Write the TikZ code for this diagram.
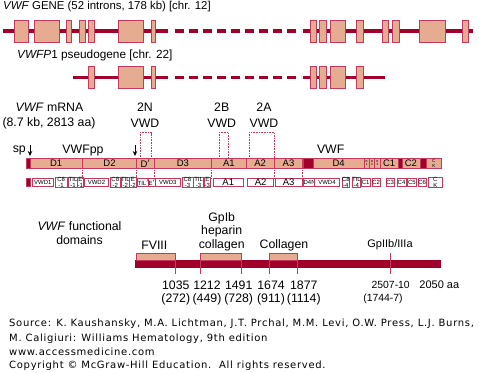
\documentclass[tikz,border=0pt]{standalone}
\usepackage{fontspec}
\setmainfont{Liberation Sans}
\newfontfamily\srcfont[LetterSpace=7]{DejaVu Sans}
\usetikzlibrary{
  arrows.meta,
  positioning
}
\definecolor{geneRed}{RGB}{160,0,42}
\definecolor{exonTan}{RGB}{229,172,146}
\definecolor{edgeRed}{RGB}{196,58,92}
\tikzset{
  exon/.style={
    draw=edgeRed,
    fill=exonTan,
    line width=0.7pt,
    inner sep=0pt,
    outer sep=0pt
  },
  topbox/.style={
    exon,
    anchor=west,
    minimum height=10pt,
    font=\fontsize{9.5}{10}\selectfont
  },
  lowbox/.style={
    draw=edgeRed,
    fill=white,
    line width=0.6pt,
    inner sep=0pt,
    anchor=west,
    minimum height=8.4pt,
    align=center,
    font=\fontsize{6}{6}\selectfont
  },
  darkbox/.style={
    draw=edgeRed,
    fill=geneRed,
    line width=0.6pt,
    inner sep=0pt,
    anchor=west
  },
  vdot/.style={
    draw=edgeRed,
    densely dotted,
    line width=0.6pt
  },
  lbl/.style={
    inner sep=0pt,
    font=\fontsize{12.3}{14}\selectfont
  }
}

\begin{document}
\begin{tikzpicture}[
    x=1pt, y=-1pt,
    >={Stealth[length=5pt,width=4.5pt]}
  ]
  \useasboundingbox (0,0) rectangle (479,372);

  % gene
  \node[lbl, anchor=west, font=\fontsize{11.4}{14}\selectfont] (geneTitle) at (3,6.5)
    {\textit{VWF} GENE (52 introns, 178 kb) [chr. 12]};
  \draw[geneRed, line width=3.5pt] (3,31) -- (168,31) (303,31) -- (473,31);
  \draw[geneRed, line width=3.5pt, dash pattern=on 9pt off 5pt] (175,31) -- (301,31);
  \foreach \a/\b [count=\k] in {14.7/28, 34.7/59.7, 66.3/71, 79/85.7, 88.3/94,
      118/143.3, 151.3/155.7, 310/316.7, 319/326, 330.3/345.7, 356.3/363.3,
      382/388.3, 392.3/399.3, 419.7/445, 462.7/468.7}{
    \node[exon, anchor=north west, minimum width={(\b-\a)*1pt},
      minimum height=22pt] (g\k) at (\a,20) {};
  }

  % pseudogene
  \node[lbl, anchor=west, font=\fontsize{11.8}{14}\selectfont] (pseudoTitle) at (17,55)
    {\textit{VWFP}1 pseudogene [chr. 22]};
  \draw[geneRed, line width=3.5pt] (72.7,77.3) -- (168,77.3) (303,77.3) -- (385,77.3);
  \draw[geneRed, line width=3.5pt, dash pattern=on 9pt off 5pt] (175,77.3) -- (301,77.3);
  \foreach \a/\b [count=\k] in {88.3/94, 118/143.3, 151.3/155.7, 310/316.7,
      319/326, 330.3/345.7, 356.3/363.3}{
    \node[exon, anchor=north west, minimum width={(\b-\a)*1pt},
      minimum height=21.6pt] (p\k) at (\a,66.7) {};
  }

  % mRNA labels
  \node[lbl] (mrna) at (49.5,107) {\textit{VWF} mRNA};
  \node[lbl] (mrnaSize) at (49,123) {(8.7 kb, 2813 aa)};
  \foreach \x/\t in {145/2N, 221.7/2B, 264/2A}{
    \node[lbl] (type\t) at (\x,107) {\t};
    \node[lbl] (vwd\t) at (\x,123) {VWD};
  }
  \node[lbl, anchor=east] (sp) at (26,150.5) {sp};
  \node[lbl] (pp) at (83,150.5) {VWFpp};
  \node[lbl] (mature) at (330.7,149) {VWF};
  \draw[->, line width=0.9pt] (30,145) -- (30,156);
  \draw[->, line width=0.9pt] (135,145) -- (135,156);

  % mRNA domain bar
  \node[darkbox, minimum width=4pt, minimum height=10pt] (topsp) at (26,163.3) {};
  \foreach \a/\b/\t [count=\k] in {30/82.3/D1, 82.3/136.7/D2, 136.7/154/{D$'$},
      154/211.7/D3, 211.7/246/A1, 246/274.3/A2, 274.3/302.7/A3,
      313.3/364/D4, 380/398.3/C1, 401.7/420/C2}{
    \node[topbox, minimum width={(\b-\a)*1pt}] (top\k) at (\a,163.3) {\t};
  }
  \foreach \a/\b/\t in {364/369.3/1, 369.3/374.7/2, 374.7/380/3}{
    \node[topbox, minimum width={(\b-\a)*1pt}, align=center,
      font=\fontsize{3}{3}\selectfont] (topB\t) at (\a,163.3) {B\\\t};
  }
  \node[topbox, minimum width=15.7pt, align=center,
    font=\fontsize{4.5}{4.5}\selectfont] (topCK) at (426,163.3) {C\\K};
  \foreach \a/\b [count=\k] in {302.7/313.3, 398.3/401.7, 420/426}{
    \node[darkbox, minimum width={(\b-\a)*1pt}, minimum height=10pt]
      (topdark\k) at (\a,163.3) {};
  }

  % subdomain bar
  \node[darkbox, minimum width=4pt, minimum height=8.4pt] (lowsp) at (26,182.5) {};
  \foreach \a/\b/\t [count=\k] in {31.7/53.3/VWD1, 55/66.7/{C8\\-1},
      68.3/77.3/{TIL\\-1}, 77.3/82.3/{E\\-1}, 84/108.3/VWD2, 110/120/{C8\\-2},
      120.7/129.3/{TIL\\-2}, 129.3/136/{E\\-2}, 137.3/147.3/{TIL$'$},
      148.3/153.3/{E$'$}, 155/180/VWD3, 181.7/192.7/{C8\\-3},
      193.3/203.3/{TIL\\-3}, 204/210/{E\\-3}, 303.3/312.7/D4N,
      314/339.3/VWD4, 341.7/349.3/{C8\\-4}, 351.7/359/{TIL\\-4},
      360.7/370/C1, 371.7/380/C2, 385.7/394/C3, 396.7/405.7/C4,
      407.3/416/C5, 417.7/426/C6, 428.3/441.7/{C\\K}}{
    \node[lowbox, minimum width={(\b-\a)*1pt}] (low\k) at (\a,182.5) {\t};
  }
  \foreach \a/\b/\t in {213.3/242.7/A1, 247.3/273.3/A2, 275/301.7/A3}{
    \node[lowbox, minimum width={(\b-\a)*1pt},
      font=\fontsize{9.5}{10}\selectfont] (low\t) at (\a,182.5) {\t};
  }

  % dotted guides
  \foreach \x in {82.3, 136.7, 154, 211.7, 274.4, 302.7}{
    \draw[vdot] (\x,168.3) -- (\x,178.3);
  }
  \draw[vdot] (140,158.3) -- (140,132.7) -- (151.7,132.7) -- (151.7,158.3);
  \draw[vdot] (219,158.3) -- (219,132.7) -- (228.3,132.7) -- (228.3,158.3);
  \draw[vdot] (249.3,158.3) -- (249.3,132.7) -- (274.4,132.7) -- (274.4,158.3);

  % functional domains
  \node[lbl, align=center] (funcTitle) at (79.5,233.5)
    {\textit{VWF} functional\\domains};
  \node[darkbox, draw=geneRed, minimum width=305pt, minimum height=7.3pt]
    (fbar) at (135,263.7) {};
  \foreach \a/\b/\n [count=\k] in {136/175.7/f, 200/241.7/g, 269.3/297.7/c}{
    \node[exon, anchor=south west, minimum width={(\b-\a)*1pt},
      minimum height=6.7pt] (fd\n) at (\a,260) {};
  }
  \foreach \x in {175.7, 200, 241.7, 269.3, 297.7}{
    \draw[edgeRed, line width=0.9pt] (\x,260) -- (\x,274);
  }
  \draw[edgeRed, line width=0.9pt] (390.7,253) -- (390.7,274);
  \node[lbl] (fviii) at (154.3,245) {FVIII};
  \node[lbl] (gpib) at (221.7,218.3) {GpIb};
  \node[lbl] (hep) at (221.7,231.7) {heparin};
  \node[lbl] (coll) at (221.7,245) {collagen};
  \node[lbl] (coll2) at (284,245) {Collagen};
  \node[lbl, font=\fontsize{11}{13}\selectfont] (gpiib) at (390,245) {GpIIb/IIIa};

  \foreach \x/\n/\m in {175.8/1035/272, 207/1212/449,
      238.7/1491/728, 271/1674/911, 303.8/1877/1114}{
    \node[lbl] (aa\n) at (\x,285) {\n};
    \node[lbl] (mat\n) at (\x,299.3) {(\m)};
  }
  \node[lbl, font=\fontsize{10.4}{12}\selectfont] (aa2507) at (390.7,285) {2507-10};
  \node[lbl, font=\fontsize{10.4}{12}\selectfont] (mat1744) at (383,299) {(1744-7)};
  \node[lbl, font=\fontsize{11}{13}\selectfont] (aaEnd) at (439.3,285) {2050 aa};

  % source
  \foreach \y/\t [count=\k] in {
      324/{Source: K. Kaushansky, M.A. Lichtman, J.T. Prchal, M.M. Levi, O.W. Press, L.J. Burns,},
      338.7/{M. Caligiuri: Williams Hematology, 9th edition},
      352/{www.accessmedicine.com},
      366/{Copyright \textcopyright{} McGraw-Hill Education.\ \ All rights reserved.}}{
    \node[anchor=west, inner sep=0pt, font=\srcfont\fontsize{10}{12}\selectfont]
      (src\k) at (9,\y) {\t};
  }
\end{tikzpicture}
\end{document}
